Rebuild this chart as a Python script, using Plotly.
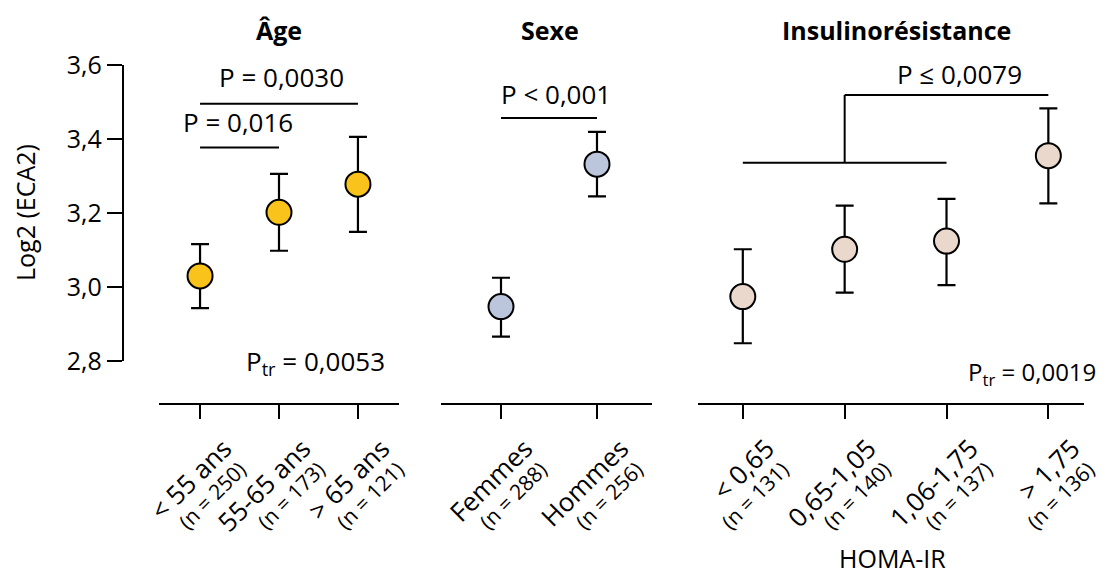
import plotly.graph_objects as go

# page body has an 8px default margin: figure is drawn 8px right/down of the window origin
OFF = 8
W, H = 1106 - OFF, 577 - OFF
FONT = "Open Sans"

# ---------------- data ----------------
age_labels = ["< 55 ans", "55-65 ans", "> 65 ans"]
age_n = ["(n = 250)", "(n = 173)", "(n = 121)"]
age_mean = [3.030, 3.202, 3.278]
age_upper = [3.116, 3.306, 3.406]
age_lower = [2.943, 3.098, 3.149]

sex_labels = ["Femmes", "Hommes"]
sex_n = ["(n = 288)", "(n = 256)"]
sex_mean = [2.947, 3.332]
sex_upper = [3.025, 3.419]
sex_lower = [2.866, 3.245]

ir_labels = ["< 0,65", "0,65-1,05", "1,06-1,75", "> 1,75"]
ir_n = ["(n = 131)", "(n = 140)", "(n = 137)", "(n = 136)"]
ir_mean = [2.974, 3.102, 3.124, 3.355]
ir_upper = [3.102, 3.220, 3.238, 3.483]
ir_lower = [2.848, 2.985, 3.005, 3.226]

y_tickvals = [2.8, 3.0, 3.2, 3.4, 3.6]
y_ticktext = ["2,8", "3,0", "3,2", "3,4", "3,6"]

# bracket levels (data units)
age_br_levels = [3.377, 3.495]
sex_br_level = 3.457
ir_br_levels = [3.336, 3.519]

colors = {"age": "#F9C31B", "sex": "#BBC5DC", "ir": "#EBD8CC"}

def px_x(p):
    return (p - OFF) / W

def px_y(p):
    return 1 - (p - OFF) / H

fig = go.Figure()

def add_group(xaxis, mean, upper, lower, color):
    xs = list(range(len(mean)))
    fig.add_trace(go.Scatter(
        x=xs, y=mean, xaxis=xaxis, yaxis="y", mode="markers",
        marker=dict(size=25, color=color, line=dict(color="black", width=2)),
        error_y=dict(type="data", symmetric=False,
                     array=[u - m for u, m in zip(upper, mean)],
                     arrayminus=[m - l for m, l in zip(mean, lower)],
                     color="black", thickness=2.2, width=9),
        showlegend=False, cliponaxis=False, hoverinfo="skip"))

add_group("x", age_mean, age_upper, age_lower, colors["age"])
add_group("x2", sex_mean, sex_upper, sex_lower, colors["sex"])
add_group("x3", ir_mean, ir_upper, ir_lower, colors["ir"])

# invisible traces so that the overlay (n = ...) axes get drawn
for ax, n in (("x4", 3), ("x5", 2), ("x6", 4)):
    fig.add_trace(go.Scatter(x=list(range(n)), y=[None] * n, xaxis=ax, yaxis="y",
                             mode="markers", showlegend=False, hoverinfo="skip"))

base = dict(ticks="outside", ticklen=14, tickwidth=2.2,
            showgrid=False, zeroline=False, anchor="free",
            position=px_y(404), tickangle=-45, automargin=False, fixedrange=True)

main = dict(showline=True, linecolor="black", linewidth=2.2, tickcolor="black",
            tickfont=dict(family=FONT, size=26, color="black"),
            ticklabelshift=24, ticklabelstandoff=4, **base)
sub = dict(showline=False, tickcolor="rgba(0,0,0,0)",
           tickfont=dict(family=FONT, size=21, color="black"),
           ticklabelshift=40, ticklabelstandoff=30, **base)

dom_age = [px_x(159), px_x(399)]
dom_sex = [px_x(441), px_x(652)]
dom_ir = [px_x(698), px_x(1084)]
rng_age = [-0.52, 2.52]
rng_sex = [-0.625, 1.573]
rng_ir = [-0.44, 3.35]

fig.update_layout(
    width=W, height=H,
    margin=dict(l=0, r=0, t=0, b=0, autoexpand=False),
    plot_bgcolor="white", paper_bgcolor="white",
    font=dict(family=FONT, color="black"),
    xaxis=dict(domain=dom_age, range=rng_age, tickvals=[0, 1, 2], ticktext=age_labels, **main),
    xaxis2=dict(domain=dom_sex, range=rng_sex, tickvals=[0, 1], ticktext=sex_labels, **main),
    xaxis3=dict(domain=dom_ir, range=rng_ir, tickvals=[0, 1, 2, 3], ticktext=ir_labels, **main),
    xaxis4=dict(domain=dom_age, range=rng_age, overlaying="x", tickvals=[0, 1, 2], ticktext=age_n, **sub),
    xaxis5=dict(domain=dom_sex, range=rng_sex, overlaying="x2", tickvals=[0, 1], ticktext=sex_n, **sub),
    xaxis6=dict(domain=dom_ir, range=rng_ir, overlaying="x3", tickvals=[0, 1, 2, 3], ticktext=ir_n, **sub),
    yaxis=dict(domain=[px_y(361), px_y(65)], range=[2.8, 3.6],
               anchor="free", position=px_x(123), automargin=False,
               tickvals=y_tickvals, ticktext=y_ticktext,
               showline=True, linecolor="black", linewidth=2.2,
               ticks="outside", ticklen=15, tickwidth=2.2, tickcolor="black",
               showgrid=False, zeroline=False,
               tickfont=dict(family=FONT, size=25, color="black"),
               fixedrange=True),
)

line = dict(color="black", width=2)
# Age brackets
fig.add_shape(type="line", xref="x", yref="y", x0=0, x1=1, y0=age_br_levels[0], y1=age_br_levels[0], line=line)
fig.add_shape(type="line", xref="x", yref="y", x0=0, x1=2, y0=age_br_levels[1], y1=age_br_levels[1], line=line)
# Sexe bracket
fig.add_shape(type="line", xref="x2", yref="y", x0=0, x1=1, y0=sex_br_level, y1=sex_br_level, line=line)
# IR bracket
fig.add_shape(type="line", xref="x3", yref="y", x0=0, x1=2, y0=ir_br_levels[0], y1=ir_br_levels[0], line=line)
fig.add_shape(type="line", xref="x3", yref="y", x0=1, x1=1, y0=ir_br_levels[0], y1=ir_br_levels[1], line=line)
fig.add_shape(type="line", xref="x3", yref="y", x0=1, x1=3, y0=ir_br_levels[1], y1=ir_br_levels[1], line=line)

def ann(text, x, y, size=26, bold=False, xref="paper", yref="paper", xanchor="center",
        yanchor="middle", angle=0, yshift=0):
    fig.add_annotation(text=f"<b>{text}</b>" if bold else text, x=x, y=y, xref=xref, yref=yref,
                       showarrow=False, xanchor=xanchor, yanchor=yanchor, textangle=angle,
                       yshift=yshift, font=dict(family=FONT, size=size, color="black"))

# y title
ann("Log2 (ECA2)", px_x(25), px_y(213), size=25, angle=-90)

# titles
ann("Âge", px_x(279), px_y(30), size=25, bold=True)
ann("Sexe", px_x(550), px_y(30), size=25, bold=True)
ann("Insulinorésistance", px_x(896), px_y(30), size=25, bold=True)

# p-values
ann("P = 0,0030", 1.03, age_br_levels[1], xref="x", yref="y", yanchor="bottom", yshift=7)
ann("P = 0,016", 0.48, age_br_levels[0], xref="x", yref="y", yanchor="bottom", yshift=6)
ann("P < 0,001", 0.57, sex_br_level, xref="x2", yref="y", yanchor="bottom", yshift=4)
ann("P ≤ 0,0079", 2.13, ir_br_levels[1], xref="x3", yref="y", yanchor="bottom", yshift=1)
ann("P<sub>tr</sub> = 0,0053", px_x(315), px_y(362))
ann("P<sub>tr</sub> = 0,0019", px_x(1098), px_y(373), size=24, xanchor="right")

# x title for HOMA-IR
ann("HOMA-IR", px_x(892), px_y(558), size=25)

fig.write_html("out.html")
